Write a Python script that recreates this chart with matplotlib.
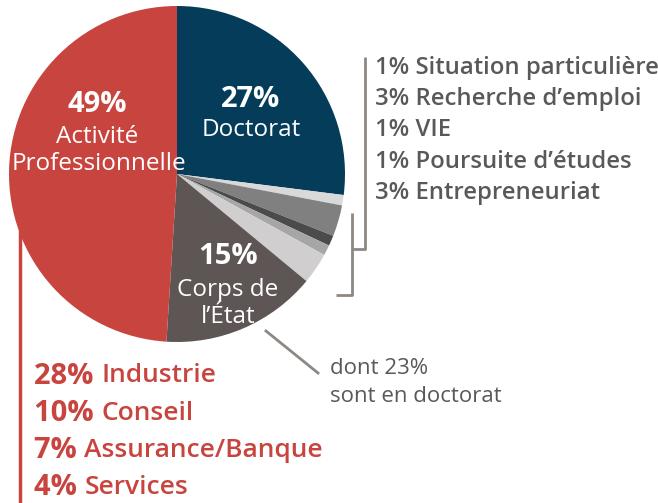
import matplotlib
matplotlib.use("Agg")
import matplotlib.pyplot as plt

W, H = 658, 503

# Data
categories = ["Doctorat", "Situation particulière", "Recherche d’emploi", "VIE",
              "Poursuite d’études", "Entrepreneuriat", "Corps de l’État",
              "Activité Professionnelle"]
values = [27, 1, 3, 1, 1, 3, 15, 49]
colors = ["#053C5A", "#D9D9D9", "#808080", "#4B4B4B", "#A6A6A6", "#D0CECE",
          "#5D5654", "#C8443F"]

small_labels = ["1% Situation particulière", "3% Recherche d’emploi", "1% VIE",
                "1% Poursuite d’études", "3% Entrepreneuriat"]
pro_pcts = ["28%", "10%", "7%", "4%"]
pro_names = ["Industrie", "Conseil", "Assurance/Banque", "Services"]

FONT = "Open Sans"
GREY_TXT = "#595959"
LINE_GREY = "#8E8782"
RED = "#C8443F"

fig = plt.figure(figsize=(W / 100, H / 100), dpi=100)
ax = fig.add_axes([0, 0, 1, 1])

def Y(y):
    return H - y

cx, cy, r = 177, 174, 168
ax.pie(values, colors=colors, startangle=90, counterclock=False,
       center=(cx, Y(cy)), radius=r, wedgeprops=dict(linewidth=0))
ax.set_xlim(0, W)
ax.set_ylim(0, H)
ax.set_aspect("equal")
ax.axis("off")

def txt(x, y, s, size, color, weight="normal", ha="center"):
    return ax.text(x, Y(y), s, fontsize=size, color=color, fontweight=weight,
                   ha=ha, va="center", family=[FONT, "DejaVu Sans"])

# Labels in pie
txt(97, 104, "49%", 21, "white", "bold")
txt(97, 137, "Activité", 17.5, "white")
txt(99, 164, "Professionnelle", 17.5, "white")
txt(251, 99, "27%", 21, "white", "bold")
txt(251, 130, "Doctorat", 17.5, "white")
txt(228, 257, "15%", 21, "white", "bold")
txt(228, 290, "Corps de", 17.5, "white")
txt(228, 317, "l’État", 17.5, "white")

# Bracket for small slices
lw = 2.0
ax.plot([365, 365, 352], [Y(57), Y(249), Y(249)], color=LINE_GREY, lw=lw,
        solid_capstyle="butt")
ax.plot([352, 352, 336], [Y(213), Y(295), Y(295)], color=LINE_GREY, lw=lw,
        solid_capstyle="butt")

for i, s in enumerate(small_labels):
    txt(375, 68 + i * 31.2, s, 17.2, GREY_TXT, "semibold", ha="left")

# Corps de l'Etat annotation
ax.plot([266, 318], [Y(331), Y(373)], color=LINE_GREY, lw=lw)
txt(330, 369, "dont 23%", 16, GREY_TXT, ha="left")
txt(330, 396, "sont en doctorat", 16, GREY_TXT, ha="left")

# Professional activity breakdown
ax.plot([19.5, 19.5], [Y(230), Y(503)], color=RED, lw=2.5, solid_capstyle="butt")
for i, (p, n) in enumerate(zip(pro_pcts, pro_names)):
    y = 376 + i * 37.3
    t = ax.text(34, Y(y), p + " ", fontsize=21, color=RED, fontweight="bold",
                ha="left", va="center", family=[FONT, "DejaVu Sans"])
    ax.annotate(n, xycoords=t, xy=(1, 0.5), va="center", ha="left",
                fontsize=19, color=RED, fontweight="semibold",
                family=[FONT, "DejaVu Sans"])

fig.savefig("out.png", dpi=100)
